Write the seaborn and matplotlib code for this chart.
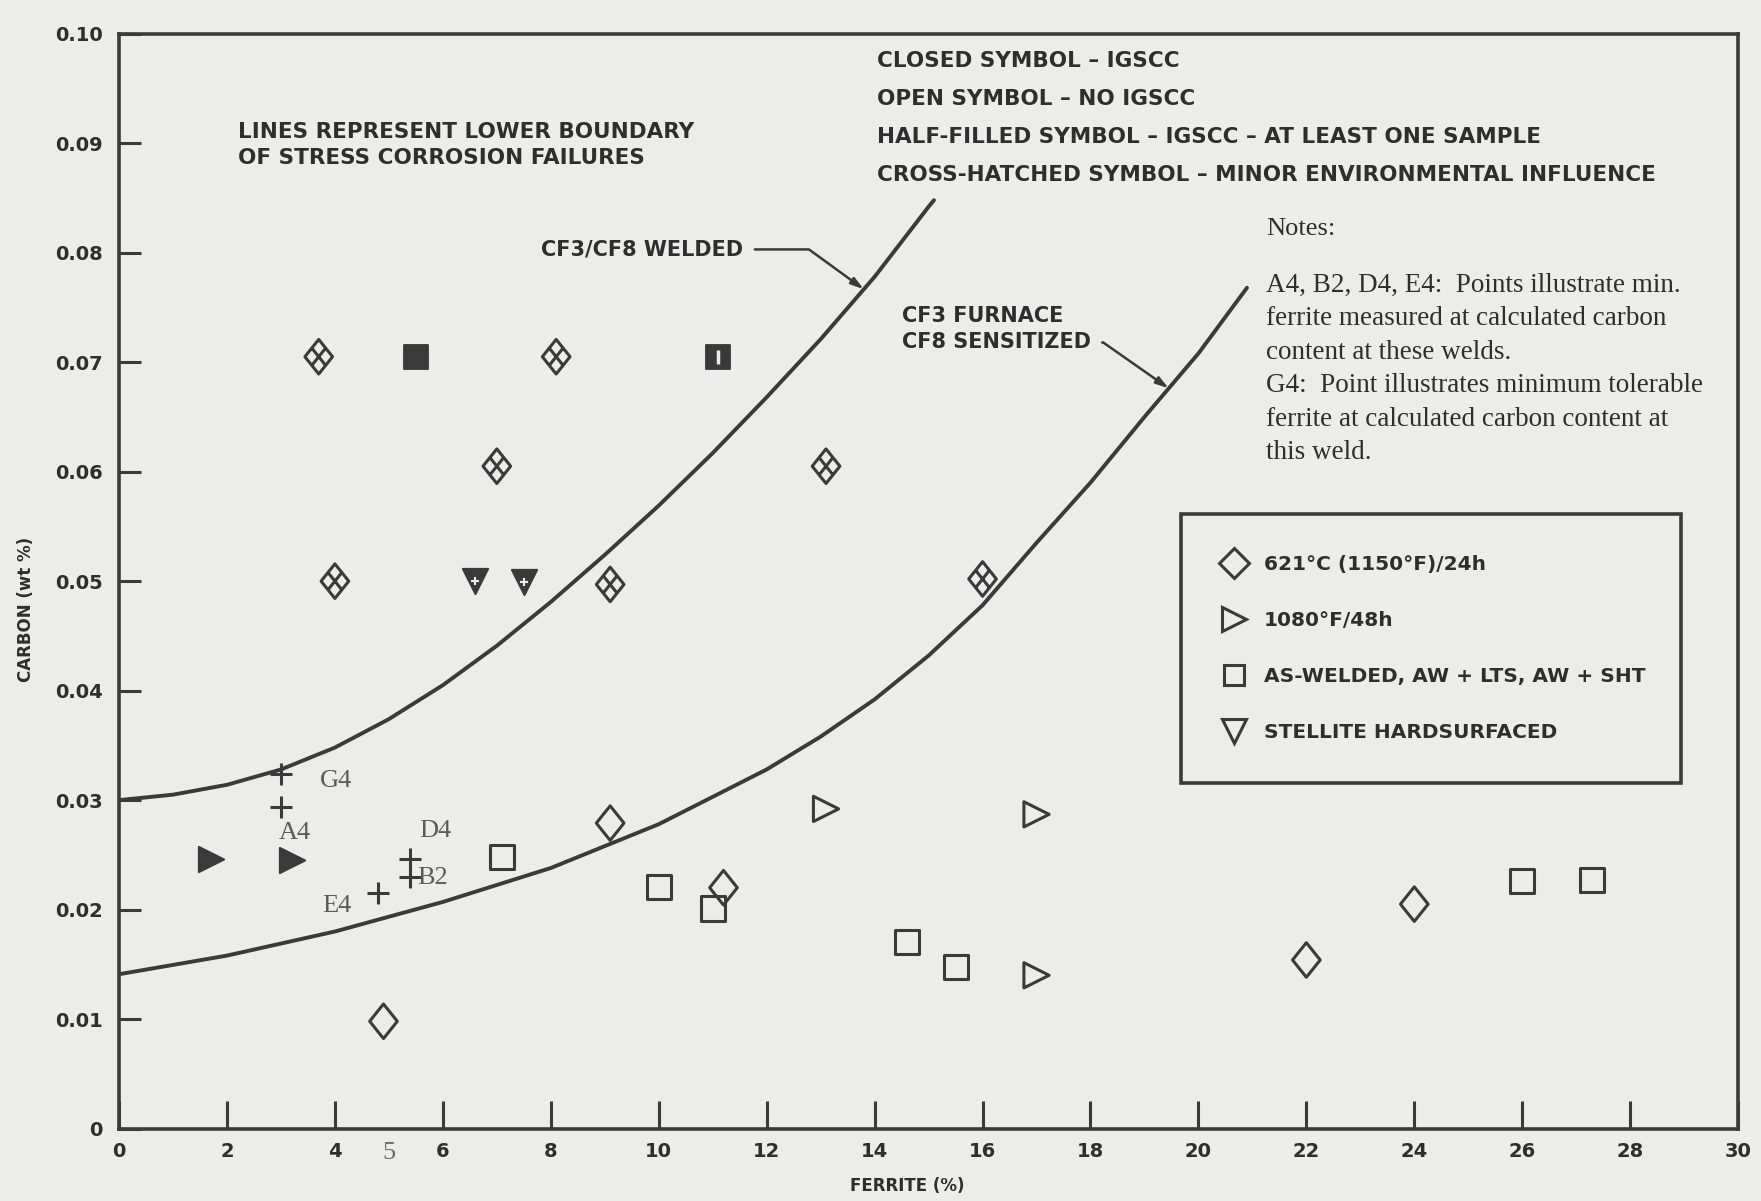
import numpy as np
import matplotlib
matplotlib.use("Agg")
import matplotlib.pyplot as plt
import seaborn as sns
from matplotlib.path import Path
from matplotlib.lines import Line2D

# boundary curves (ferrite %, carbon wt %)
welded_ferrite = [0, 1, 2, 3, 4, 5, 6, 7, 8, 9, 10, 11, 12, 13, 14, 15, 15.1]
welded_carbon = [0.0300, 0.0305, 0.0314, 0.0328, 0.0348, 0.0374, 0.0405, 0.0441,
                 0.0481, 0.0524, 0.0569, 0.0617, 0.0668, 0.0721, 0.0778, 0.0842, 0.0848]
furnace_ferrite = [0, 2, 4, 6, 8, 10, 12, 13, 14, 15, 16, 17, 18, 19, 20, 20.9]
furnace_carbon = [0.0141, 0.0158, 0.0180, 0.0207, 0.0238, 0.0278, 0.0328, 0.0358,
                  0.0392, 0.0432, 0.0478, 0.0535, 0.0590, 0.0650, 0.0708, 0.0768]

# 621C/24h, cross-hatched (minor environmental influence)
hatched_ferrite = [3.7, 8.1, 7.0, 13.1, 4.0, 9.1, 16.0]
hatched_carbon = [0.0705, 0.0705, 0.0605, 0.0605, 0.0500, 0.0497, 0.0502]
# 621C/24h, open
diamond_ferrite = [9.1, 11.2, 4.9, 22.0, 24.0]
diamond_carbon = [0.0279, 0.0220, 0.0098, 0.0154, 0.0205]
# 1080F/48h
tri_open_ferrite = [13.1, 17.0, 17.0]
tri_open_carbon = [0.0292, 0.0287, 0.0140]
tri_closed_ferrite = [1.7, 3.2]
tri_closed_carbon = [0.0246, 0.0245]
# as-welded
square_ferrite = [7.1, 10.0, 11.0, 14.6, 15.5, 26.0, 27.3]
square_carbon = [0.0248, 0.0221, 0.0201, 0.0170, 0.0148, 0.0226, 0.0227]
square_closed_ferrite = [5.5]
square_closed_carbon = [0.0705]
square_half_ferrite = [11.1]
square_half_carbon = [0.0705]
# stellite hardsurfaced, half filled
stellite_ferrite = [6.6, 7.5]
stellite_carbon = [0.0500, 0.0499]
# weld points
weld_labels = ["G4", "A4", "D4", "B2", "E4"]
weld_ferrite = [3.0, 3.0, 5.4, 5.4, 4.8]
weld_carbon = [0.0324, 0.0294, 0.0246, 0.0230, 0.0215]

x_ticks = list(range(0, 31, 2))
y_ticks = [0, 0.01, 0.02, 0.03, 0.04, 0.05, 0.06, 0.07, 0.08, 0.09, 0.10]
y_ticklabels = ["0", "0.01", "0.02", "0.03", "0.04", "0.05", "0.06", "0.07", "0.08", "0.09", "0.10"]

legend_labels = ["621\u00b0C (1150\u00b0F)/24h", "1080\u00b0F/48h",
                 "AS-WELDED, AW + LTS, AW + SHT", "STELLITE HARDSURFACED"]
symbol_notes = ["CLOSED SYMBOL \u2013 IGSCC", "OPEN SYMBOL \u2013 NO IGSCC",
                "HALF-FILLED SYMBOL \u2013 IGSCC \u2013 AT LEAST ONE SAMPLE",
                "CROSS-HATCHED SYMBOL \u2013 MINOR ENVIRONMENTAL INFLUENCE"]
notes_text = ("A4, B2, D4, E4:  Points illustrate min.\n"
              "ferrite measured at calculated carbon\n"
              "content at these welds.\n"
              "G4:  Point illustrates minimum tolerable\n"
              "ferrite at calculated carbon content at\n"
              "this weld.")

BG = "#ecece9"
INK = "#2e2e2e"
MARK = "#3a3a3a"
SANS = ["DejaVu Sans"]
SERIF = ["Liberation Serif", "DejaVu Serif"]

sns.set_theme(style="white")
plt.rcParams["font.family"] = SANS
plt.rcParams["font.weight"] = "bold"

fig = plt.figure(figsize=(17.61, 12.01), dpi=100, facecolor=BG)
ax = fig.add_axes([0.0676, 0.0603, 0.9194, 0.9116])
ax.set_facecolor(BG)

# diamond shapes as custom paths (tall diamond, with/without cross hatch)
w = 0.8
diamond = Path([(0, 1), (w, 0), (0, -1), (-w, 0), (0, 1)],
               [Path.MOVETO, Path.LINETO, Path.LINETO, Path.LINETO, Path.CLOSEPOLY])
hatched = Path([(0, 1), (w, 0), (0, -1), (-w, 0), (0, 1),
                (w / 2, 0.5), (-w / 2, -0.5), (-w / 2, 0.5), (w / 2, -0.5)],
               [Path.MOVETO, Path.LINETO, Path.LINETO, Path.LINETO, Path.CLOSEPOLY,
                Path.MOVETO, Path.LINETO, Path.MOVETO, Path.LINETO])

# boundary lines
sns.lineplot(x=welded_ferrite, y=welded_carbon, color=MARK, linewidth=2.8,
             estimator=None, sort=False, ax=ax)
sns.lineplot(x=furnace_ferrite, y=furnace_carbon, color=MARK, linewidth=2.8,
             estimator=None, sort=False, ax=ax)

open_kw = dict(facecolor="none", edgecolor=MARK, linewidth=2.2, ax=ax, zorder=3)
sns.scatterplot(x=hatched_ferrite, y=hatched_carbon, marker=hatched, s=620, **open_kw)
sns.scatterplot(x=diamond_ferrite, y=diamond_carbon, marker=diamond, s=620, **open_kw)
sns.scatterplot(x=tri_open_ferrite, y=tri_open_carbon, marker=">", s=330, **open_kw)
sns.scatterplot(x=square_ferrite, y=square_carbon, marker="s", s=300, **open_kw)

sns.scatterplot(x=tri_closed_ferrite, y=tri_closed_carbon, marker=">", s=330,
                color=MARK, edgecolor=MARK, ax=ax, zorder=3)
sns.scatterplot(x=square_closed_ferrite, y=square_closed_carbon, marker="s", s=280,
                color=MARK, edgecolor=MARK, ax=ax, zorder=3)
sns.scatterplot(x=square_half_ferrite, y=square_half_carbon, marker="s", s=280,
                color=MARK, edgecolor=MARK, ax=ax, zorder=3)
sns.scatterplot(x=square_half_ferrite, y=square_half_carbon, marker="|", s=90,
                color=BG, linewidth=2.5, ax=ax, zorder=4)
sns.scatterplot(x=stellite_ferrite, y=stellite_carbon, marker="v", s=330,
                color=MARK, edgecolor=MARK, ax=ax, zorder=3)
sns.scatterplot(x=stellite_ferrite, y=stellite_carbon, marker="+", s=40,
                color=BG, linewidth=1.5, ax=ax, zorder=4)
sns.scatterplot(x=weld_ferrite, y=weld_carbon, marker="+", s=230,
                color=MARK, linewidth=2.2, ax=ax, zorder=3)

# weld point labels
label_offsets = [(28, -5), (10, -19), (18, 20), (5, -1), (-30, -9)]
label_ha = ["left", "center", "center", "left", "center"]
for lab, fx, cy, off, ha in zip(weld_labels, weld_ferrite, weld_carbon, label_offsets, label_ha):
    ax.annotate(lab, (fx, cy), xytext=off, textcoords="offset points", ha=ha, va="center",
                family=SERIF, fontweight="normal", fontsize=19, color="#5a5a5a")

# axes limits and ticks
ax.set_xlim(0, 30)
ax.set_ylim(0, 0.10)
ax.set_xticks(x_ticks)
ax.set_xticklabels([str(t) for t in x_ticks])
ax.set_yticks(y_ticks)
ax.set_yticklabels(y_ticklabels)
ax.tick_params(axis="x", direction="in", length=20, width=2.2, colors=MARK,
               labelcolor=INK, labelsize=14, pad=10, bottom=True)
ax.tick_params(axis="y", direction="in", length=16, width=2.2, colors=MARK,
               labelcolor=INK, labelsize=14, pad=12, left=True)
for sp in ax.spines.values():
    sp.set_color(MARK)
    sp.set_linewidth(2.6)
ax.text(5, -0.0022, "5", ha="center", va="center", family=SERIF, fontweight="normal",
        fontsize=19, color="#6a6a6a")

ax.set_xlabel("FERRITE (%)", fontsize=12, fontweight="bold", color=INK)
ax.set_ylabel("CARBON (wt %)", fontsize=12, fontweight="bold", color=INK)
ax.xaxis.label.set_va("center")
ax.xaxis.set_label_coords(0.487, -0.052)
ax.yaxis.set_label_coords(-0.052, 0.474)

# annotations
ax.text(2.2, 0.0919, "LINES REPRESENT LOWER BOUNDARY\nOF STRESS CORROSION FAILURES",
        ha="left", va="top", fontsize=15.5, color=INK, linespacing=1.32)
for i, line in enumerate(symbol_notes):
    ax.text(14.05, 0.0975 - i * 0.00348, line, ha="left", va="center", fontsize=15.5, color=INK)

ax.annotate("CF3/CF8 WELDED", xy=(13.8, np.interp(13.8, welded_ferrite, welded_carbon)),
            xytext=(7.82, 0.0803), ha="left", va="center", fontsize=15, color=INK,
            arrowprops=dict(arrowstyle="-|>,head_length=0.5,head_width=0.15", color=MARK,
                            linewidth=1.8, shrinkA=6, shrinkB=0,
                            connectionstyle="angle,angleA=0,angleB=-36,rad=0"))
ax.text(14.5, 0.0742, "CF3 FURNACE", ha="left", va="center", fontsize=15, color=INK)
ax.annotate("CF8 SENSITIZED", xy=(19.45, np.interp(19.45, furnace_ferrite, furnace_carbon)),
            xytext=(14.5, 0.0718), ha="left", va="center", fontsize=15, color=INK,
            arrowprops=dict(arrowstyle="-|>,head_length=0.5,head_width=0.15", color=MARK,
                            linewidth=1.8, shrinkA=6, shrinkB=0,
                            connectionstyle="angle,angleA=0,angleB=-35,rad=0"))

ax.text(21.25, 0.0822, "Notes:", ha="left", va="center", family=SERIF, fontweight="normal",
        fontsize=19, color=INK)
ax.text(21.25, 0.0782, notes_text, ha="left", va="top", family=SERIF, fontweight="normal",
        fontsize=19.5, color=INK, linespacing=1.45)

# marker legend
handles = [
    Line2D([], [], linestyle="", marker="D", markersize=15, markerfacecolor="none",
           markeredgecolor=MARK, markeredgewidth=2.2),
    Line2D([], [], linestyle="", marker=">", markersize=17, markerfacecolor="none",
           markeredgecolor=MARK, markeredgewidth=2.2),
    Line2D([], [], linestyle="", marker="s", markersize=15, markerfacecolor="none",
           markeredgecolor=MARK, markeredgewidth=2.2),
    Line2D([], [], linestyle="", marker="v", markersize=17, markerfacecolor="none",
           markeredgecolor=MARK, markeredgewidth=2.2),
]
leg = ax.legend(handles, legend_labels, loc="upper left",
                bbox_to_anchor=(0.656, 0.313, 0.3085, 0.248), mode="expand",
                borderaxespad=0, frameon=True, fancybox=False, framealpha=1,
                facecolor=BG, edgecolor=MARK, borderpad=2.0, labelspacing=1.85,
                handlelength=1.2, handletextpad=0.9, prop=dict(family=SANS, weight="bold", size=14.5))
leg.get_frame().set_linewidth(2.6)
for t in leg.get_texts():
    t.set_color(INK)

fig.savefig("out.png", dpi=100, facecolor=BG)
